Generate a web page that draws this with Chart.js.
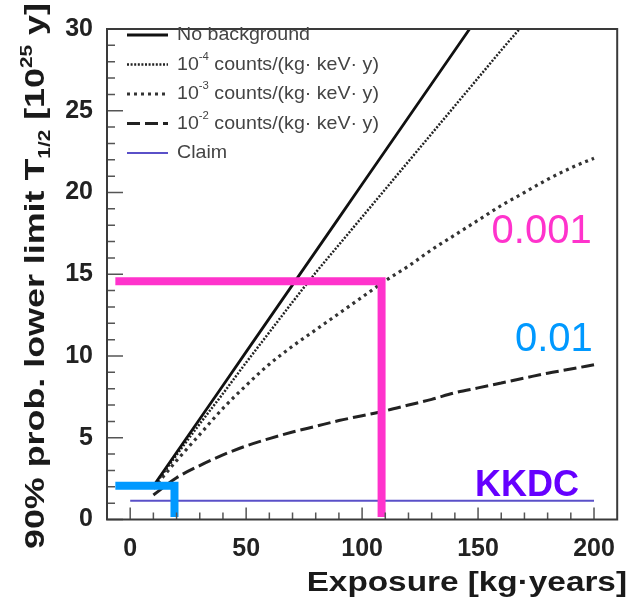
<!DOCTYPE html>
<html>
<head>
<meta charset="utf-8">
<script src="https://cdn.jsdelivr.net/npm/chart.js@4.4.0/dist/chart.umd.min.js"></script>
<style>
  html, body { margin: 0; padding: 0; background: #fff; }
</style>
</head>
<body>
<canvas id="c" width="630" height="605"></canvas>
<script>
// Data: exposure [kg·years] vs T1/2 limit [1e25 y]
const exposure = [10, 20, 30, 40, 50, 60, 70, 80, 90, 100, 110, 120, 130, 140, 150, 160, 170, 180, 190, 200];
const noBackground = [2.05, 4.1, 6.15, 8.2, 10.25, 12.3, 14.35, 16.4, 18.45, 20.5, 22.55, 24.6, 26.65, 28.7, 30.75];
const bkg1e4 = [2.0, 3.95, 5.85, 7.7, 9.6, 11.45, 13.3, 15.1, 16.8, 18.5, 20.2, 21.9, 23.6, 25.3, 27.0, 28.7, 30.35];
const bkg1e3 = [1.9, 3.6, 5.2, 6.8, 8.2, 9.5, 10.6, 11.6, 12.6, 13.6, 14.6, 15.5, 16.5, 17.4, 18.3, 19.2, 20.0, 20.8, 21.5, 22.1];
const bkg1e2 = [1.5, 2.55, 3.3, 3.95, 4.5, 4.95, 5.35, 5.7, 6.05, 6.35, 6.65, 7.0, 7.35, 7.75, 8.05, 8.35, 8.65, 8.95, 9.2, 9.47];
const claimX = [0, 200];
const claimY = [1.15, 1.15];

// hand-drawn markers on top of the plot
const pinkX = [-6.4, 108.4, 108.4];
const pinkY = [14.57, 14.57, 0.15];
const blueX = [-6.4, 19.1, 19.1];
const blueY = [2.06, 2.06, 0.15];

const xTicks = [0, 50, 100, 150, 200];
const yTicks = [0, 5, 10, 15, 20, 25, 30];

const FONT = "'Liberation Sans', Arial, Helvetica, sans-serif";

function toXY(xs, ys) {
  return ys.map((y, i) => ({ x: xs[i], y }));
}

// draws text with ^{..} / _{..} runs
function drawRich(ctx, text, x, y, size, weight) {
  const parts = text.split(/([_^]\{[^}]*\})/).filter(s => s.length);
  let cx = x;
  parts.forEach(p => {
    let s = p, sz = size, dy = 0;
    if (p[0] === '^') { s = p.slice(2, -1); sz = size * 0.58; dy = -size * 0.42; }
    else if (p[0] === '_') { s = p.slice(2, -1); sz = size * 0.58; dy = size * 0.2; }
    ctx.font = weight + ' ' + sz + 'px ' + FONT;
    ctx.fillText(s, cx, y + dy);
    cx += ctx.measureText(s).width;
  });
}

const framePlugin = {
  id: 'frame',
  afterDatasetsDraw(chart) {
    const { ctx, chartArea: a, scales } = chart;
    ctx.save();
    // inner tick marks
    ctx.strokeStyle = '#555';
    ctx.lineWidth = 1.5;
    ctx.beginPath();
    for (let v = 0; v <= 200; v += 10) {
      const px = scales.x.getPixelForValue(v);
      ctx.moveTo(px, a.bottom);
      ctx.lineTo(px, a.bottom - (v % 50 === 0 ? 12 : 7));
    }
    for (let v = 0; v <= 30; v += 1) {
      const py = scales.y.getPixelForValue(v);
      ctx.moveTo(a.left, py);
      ctx.lineTo(a.left + (v % 5 === 0 ? 16 : 8), py);
    }
    ctx.stroke();
    ctx.strokeStyle = '#3a3a3a';
    ctx.lineWidth = 2;
    ctx.strokeRect(a.left, a.top, a.right - a.left, a.bottom - a.top);
    ctx.restore();
  }
};

const textPlugin = {
  id: 'texts',
  afterDraw(chart) {
    const { ctx, scales } = chart;
    const x = scales.x, y = scales.y;
    ctx.save();
    ctx.textBaseline = 'alphabetic';

    // axis titles
    ctx.fillStyle = '#1a1a1a';
    ctx.save();
    ctx.translate(44, 549);
    ctx.rotate(-Math.PI / 2);
    ctx.scale(1.28, 1);
    ctx.textAlign = 'left';
    drawRich(ctx, '90% prob. lower limit T_{1/2} [10^{25} y]', 0, 0, 28, 'bold');
    ctx.restore();

    ctx.save();
    ctx.translate(627, 591);
    ctx.scale(1.19, 1);
    ctx.textAlign = 'right';
    ctx.font = 'bold 28px ' + FONT;
    ctx.fillText('Exposure [kg\u00B7years]', 0, 0);
    ctx.restore();

    // coloured annotations
    ctx.textAlign = 'right';
    ctx.font = '40px ' + FONT;
    ctx.fillStyle = '#ff33cc';
    ctx.fillText('0.001', x.getPixelForValue(199), y.getPixelForValue(16.9));
    ctx.fillStyle = '#0099ff';
    ctx.fillText('0.01', x.getPixelForValue(199.5), y.getPixelForValue(10.3));
    ctx.font = 'bold 36px ' + FONT;
    ctx.fillStyle = '#6600ff';
    ctx.fillText('KKDC', x.getPixelForValue(193.5), y.getPixelForValue(1.46));

    // legend
    ctx.textAlign = 'left';
    ctx.textBaseline = 'middle';
    const items = chart.data.datasets.filter(d => d.inLegend);
    items.forEach((d, i) => {
      const ly = 35 + i * 29.5;
      ctx.save();
      ctx.strokeStyle = d.borderColor;
      ctx.lineWidth = d.borderWidth;
      ctx.setLineDash(d.borderDash || []);
      ctx.beginPath();
      ctx.moveTo(127, ly);
      ctx.lineTo(168, ly);
      ctx.stroke();
      ctx.restore();
      ctx.fillStyle = '#444';
      ctx.save();
      ctx.translate(177, ly);
      ctx.scale(1.06, 1);
      drawRich(ctx, d.label, 0, 0, 18.5, 'normal');
      ctx.restore();
    });
    ctx.restore();
  }
};

const lineBase = { pointRadius: 0, fill: false, borderCapStyle: 'butt', borderJoinStyle: 'miter' };

new Chart(document.getElementById('c'), {
  type: 'line',
  data: {
    datasets: [
      { ...lineBase, label: 'pink', data: toXY(pinkX, pinkY), borderColor: '#ff33cc', borderWidth: 8, order: 0 },
      { ...lineBase, label: 'blue', data: toXY(blueX, blueY), borderColor: '#0099ff', borderWidth: 8, order: 0 },
      { ...lineBase, label: 'No background', inLegend: true, data: toXY(exposure, noBackground),
        borderColor: '#111', borderWidth: 2.8, order: 1 },
      { ...lineBase, label: '10^{-4} counts/(kg\u00B7 keV\u00B7 y)', inLegend: true, data: toXY(exposure, bkg1e4),
        borderColor: '#222', borderWidth: 2.5, borderDash: [2, 1.6], cubicInterpolationMode: 'monotone', order: 2 },
      { ...lineBase, label: '10^{-3} counts/(kg\u00B7 keV\u00B7 y)', inLegend: true, data: toXY(exposure, bkg1e3),
        borderColor: '#333', borderWidth: 3.2, borderDash: [3, 4], cubicInterpolationMode: 'monotone', order: 3 },
      { ...lineBase, label: '10^{-2} counts/(kg\u00B7 keV\u00B7 y)', inLegend: true, data: toXY(exposure, bkg1e2),
        borderColor: '#222', borderWidth: 3, borderDash: [13, 5], cubicInterpolationMode: 'monotone', order: 4 },
      { ...lineBase, label: 'Claim', inLegend: true, data: toXY(claimX, claimY),
        borderColor: '#5a50c8', borderWidth: 2, order: 5 }
    ]
  },
  options: {
    responsive: false,
    animation: false,
    devicePixelRatio: 1,
    layout: { padding: { left: 0, right: 3, top: 14.5, bottom: 0 } },
    plugins: { legend: { display: false }, tooltip: { enabled: false } },
    scales: {
      x: {
        type: 'linear', min: -10, max: 210,
        afterBuildTicks: s => { s.ticks = xTicks.map(v => ({ value: v })); },
        afterFit: s => { s.height = 85.5; },
        grid: { display: false, drawTicks: false },
        border: { display: false },
        ticks: { color: '#222', padding: 15, maxRotation: 0, autoSkip: false,
          font: { family: FONT, size: 25, weight: 'bold' } }
      },
      y: {
        type: 'linear', min: 0, max: 30,
        afterBuildTicks: s => { s.ticks = yTicks.map(v => ({ value: v })); },
        afterFit: s => { s.width = 107; },
        grid: { display: false, drawTicks: false },
        border: { display: false },
        ticks: { color: '#222', padding: 14, autoSkip: false,
          font: { family: FONT, size: 25, weight: 'bold' } }
      }
    }
  },
  plugins: [framePlugin, textPlugin]
});
</script>
</body>
</html>
